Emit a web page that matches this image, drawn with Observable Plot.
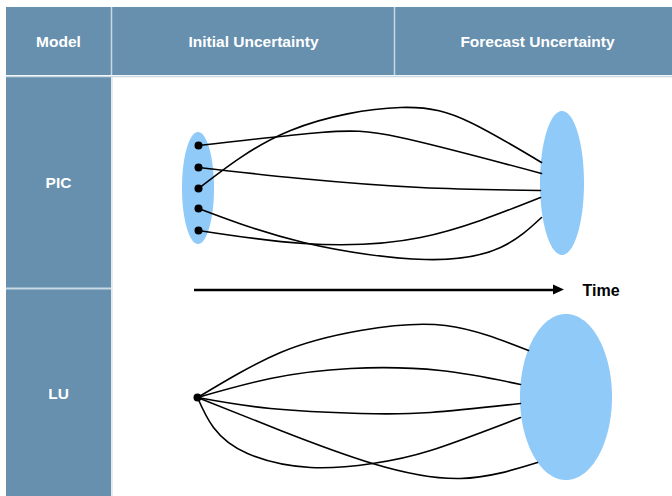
<!DOCTYPE html>
<html>
<head>
<meta charset="utf-8">
<script src="https://cdn.jsdelivr.net/npm/d3@7"></script>
<script src="https://cdn.jsdelivr.net/npm/@observablehq/plot@0.6"></script>
<style>
  html, body { margin: 0; padding: 0; background: #fff; }
  #chart svg { display: block; }
</style>
</head>
<body>
<div id="chart"></div>
<script>
// ---- Text content ----
const headerLabels = ["Model", "Initial Uncertainty", "Forecast Uncertainty"];
const modelLabels = ["PIC", "LU"];
const timeLabel = "Time";

// ---- Diagram data (canvas units, 672 x 496) ----
// PIC: ensemble of initial states (dots inside a small ellipse)
const picDotsY = [145, 167, 188, 208, 230];
const picDotX = 198;
// PIC trajectories (way-points from each initial state to forecast ellipse)
const picPaths = [
  [[198,145],[320,132],[400,137],[541,173]],
  [[198,167],[300,178],[420,187],[540,190]],
  [[198,188],[290,130],[400,107],[470,122],[541,162]],
  [[198,208],[303,242],[425,259],[500,247],[541,217]],
  [[198,230],[303,243],[420,237],[540,197]]
];
// LU: single initial state, diverging trajectories
const luDot = [197, 397];
const luPaths = [
  [[197,397],[280,352],[360,330],[445,325],[528,350]],
  [[197,397],[270,378],[350,368],[440,370],[520,384]],
  [[197,397],[270,408],[360,413],[430,412],[520,403]],
  [[197,397],[280,430],[372,463],[460,478],[537,462]],
  [[197,397],[213,427],[247,453],[310,467],[372,463],[430,450],[520,417]]
];
// Uncertainty ellipses: [cx, cy, rx, ry]
const picInitEllipse = [198, 188, 16, 56];
const picFcstEllipse = [562, 183, 22, 72];
const luFcstEllipse = [566, 397, 46, 83];

// ---- Layout ----
const W = 672, H = 496;
const headerColor = "#678fae";
const sepColor = "#c9d9e4";
const blobColor = "#90caf9";

function ellipsePts([cx, cy, rx, ry], n = 80) {
  return d3.range(n + 1).map(i => {
    const a = Math.PI * i / n;
    const s = Math.sin(a);
    return {x: cx - rx * Math.cos(a), y1: cy - ry * s, y2: cy + ry * s};
  });
}
const toRows = (paths) => paths.flatMap((p, k) => p.map(([x, y]) => ({k, x, y})));

const headerRects = [
  {x1: 6, x2: 111, y1: 7, y2: 75},
  {x1: 111, x2: 394, y1: 7, y2: 75},
  {x1: 394, x2: 672, y1: 7, y2: 75},
  {x1: 6, x2: 111, y1: 77, y2: 288},
  {x1: 6, x2: 111, y1: 288, y2: 496}
];
const headerTextPos = [[58, 42], [253, 42], [537, 42]];
const modelTextPos = [[58, 183], [58, 394]];

const chart = Plot.plot({
  width: W, height: H,
  margin: 0,
  x: {domain: [0, W], axis: null},
  y: {domain: [H, 0], axis: null},
  style: {background: "white", fontFamily: "'Liberation Sans', Arial, Helvetica, sans-serif"},
  marks: [
    // table cells
    Plot.rect(headerRects, {x1: "x1", x2: "x2", y1: "y1", y2: "y2", fill: headerColor}),
    // separators
    Plot.ruleX([111, 394], {y1: 7, y2: 75, stroke: sepColor, strokeWidth: 1.5}),
    Plot.ruleY([76], {x1: 6, x2: 672, stroke: sepColor, strokeWidth: 1.5}),
    Plot.ruleY([288], {x1: 6, x2: 111, stroke: sepColor, strokeWidth: 2}),
    Plot.ruleX([111.5], {y1: 76, y2: 496, stroke: sepColor, strokeWidth: 1}),
    // header & model labels
    Plot.text(headerLabels, {x: (d, i) => headerTextPos[i][0], y: (d, i) => headerTextPos[i][1], text: d => d,
      fill: "white", fontSize: 15.5, fontWeight: "bold"}),
    Plot.text(modelLabels, {x: (d, i) => modelTextPos[i][0], y: (d, i) => modelTextPos[i][1], text: d => d,
      fill: "white", fontSize: 15.5, fontWeight: "bold"}),
    // ellipses
    Plot.areaY(ellipsePts(picInitEllipse), {x: "x", y1: "y1", y2: "y2", fill: blobColor}),
    Plot.areaY(ellipsePts(picFcstEllipse), {x: "x", y1: "y1", y2: "y2", fill: blobColor}),
    Plot.areaY(ellipsePts(luFcstEllipse), {x: "x", y1: "y1", y2: "y2", fill: blobColor}),
    // trajectories
    Plot.line(toRows(picPaths), {x: "x", y: "y", z: "k", curve: "natural", stroke: "black", strokeWidth: 1.6}),
    Plot.line(toRows(luPaths), {x: "x", y: "y", z: "k", curve: "natural", stroke: "black", strokeWidth: 1.6}),
    // initial states
    Plot.dot(picDotsY, {x: picDotX, y: d => d, r: 4, fill: "black"}),
    Plot.dot([luDot], {x: d => d[0], y: d => d[1], r: 4, fill: "black"}),
    // time arrow
    Plot.ruleY([289.5], {x1: 194, x2: 555, stroke: "black", strokeWidth: 2.5}),
    Plot.areaY([{x: 553, y1: 284.5, y2: 294.5}, {x: 564, y1: 289.5, y2: 289.5}], {x: "x", y1: "y1", y2: "y2", fill: "black"}),
    Plot.text([timeLabel], {x: 582, y: 290, text: d => d, textAnchor: "start", fill: "black", fontSize: 16, fontWeight: "bold"})
  ]
});
document.getElementById("chart").appendChild(chart);
</script>
</body>
</html>
